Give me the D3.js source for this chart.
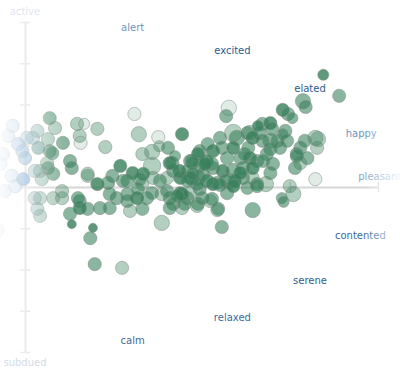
<!DOCTYPE html>
<html>
<head>
<meta charset="utf-8">
<script src="https://cdn.jsdelivr.net/npm/d3@7"></script>
<style>
  html, body { margin: 0; padding: 0; background: #fff; }
  svg { display: block; }
  text { font-family: "DejaVu Sans", Verdana, sans-serif; font-size: 10px; }
</style>
</head>
<body>
<svg id="chart" width="400" height="375"></svg>
<script>
// valence (5..9 pleasant half), arousal (1..9)
const valenceTicks = [5, 6, 7, 8, 9];
const arousalTicks = [1, 2, 3, 4, 5, 6, 7, 8, 9];

// mood words placed on the circumplex
const moodWords = ["alert", "excited", "elated", "happy", "pleasant", "contented", "serene", "relaxed", "calm"];
const moodValence = [6.22, 7.35, 8.23, 8.81, 9.02, 8.80, 8.23, 7.35, 6.22];
const moodArousal = [8.88, 8.32, 7.40, 6.31, 5.27, 3.84, 2.75, 1.85, 1.29];
const moodTone = [1, 3, 3, 1, 0, 2, 3, 2, 2];
const axisWords = ["active", "subdued"];
const axisArousal = [9.27, 0.76];

// entries: [valence, arousal, weight(1..5), intensity(1..4)]
const entries = [
  [8.38,7.72,2,4],[8.56,7.21,3,3],[8.15,7.08,4,3],[8.18,6.94,3,3],[7.31,6.92,4,1],[7.28,6.72,3,3],
  [7.92,6.87,3,4],[7.98,6.77,3,3],[8.03,6.67,2,3],[7.69,6.53,3,3],[7.78,6.55,3,4],[7.80,6.41,3,3],
  [7.66,6.31,3,3],[7.95,6.36,3,3],[7.36,6.31,5,2],[7.40,6.19,4,3],[7.52,6.31,3,3],[7.58,6.19,3,4],
  [7.69,6.12,3,3],[7.78,6.12,4,3],[7.86,6.12,3,3],[7.53,5.95,3,3],[7.78,5.92,3,3],[7.92,6.28,2,3],
  [8.12,5.95,3,3],[8.17,6.12,3,3],[8.29,6.19,4,2],[8.31,5.95,3,2],[8.20,5.70,3,3],[8.08,5.80,3,3],
  [8.12,5.58,3,2],[8.06,5.46,3,3],[8.29,5.19,3,1],[8.00,5.02,3,2],[7.73,5.07,4,2],[7.63,5.07,3,3],
  [7.21,6.19,3,3],[7.13,5.87,3,4],[7.07,6.04,3,3],[7.23,5.95,3,3],[7.29,5.70,3,3],[7.36,5.95,3,4],
  [7.44,5.70,3,3],[7.55,5.70,3,4],[7.63,5.63,3,3],[7.74,5.80,3,3],[7.81,5.56,3,3],[7.47,5.46,3,3],
  [7.58,5.46,3,4],[7.13,5.46,3,3],[7.24,5.39,3,4],[7.36,5.39,4,3],[7.47,5.22,3,3],[7.02,5.32,3,3],
  [7.06,5.63,3,4],[7.32,5.15,4,2],[7.18,5.10,3,3],[7.58,5.22,3,2],[8.32,6.16,4,2],[7.89,5.95,3,3],
  [7.97,6.12,3,3],[7.64,6.48,2,4],[7.55,6.31,4,2],
  [6.24,6.77,3,1],[6.51,6.21,3,1],[6.52,5.99,2,2],[6.78,6.28,3,4],[6.29,6.28,4,2],[6.62,5.95,3,3],
  [6.33,5.80,3,2],[6.44,5.85,4,2],[6.44,5.51,5,2],[6.08,5.51,3,4],[6.67,5.58,3,3],[6.75,5.39,3,4],
  [6.87,5.63,3,3],[6.98,5.87,3,3],[6.98,5.51,3,3],[7.12,5.56,3,3],[6.89,5.19,3,3],[6.76,5.22,3,4],
  [6.68,5.39,3,3],[6.61,5.22,3,2],[6.53,5.15,3,3],[6.45,5.22,3,2],[6.34,5.32,3,4],[6.22,5.34,3,4],
  [6.16,5.15,3,3],[6.33,5.07,3,2],[6.96,5.22,4,3],[7.07,5.15,3,2],[7.27,5.15,3,3],[7.38,5.15,3,4],
  [7.21,5.05,3,3],[6.89,5.63,3,3],[6.64,5.58,3,4],[6.70,5.75,2,3],[6.96,5.80,3,4],
  [6.16,4.83,3,3],[6.27,4.73,3,4],[6.38,4.73,3,3],[6.55,4.83,3,2],[6.64,4.73,3,3],[6.76,4.85,3,4],
  [6.84,4.73,3,3],[6.68,4.59,3,3],[6.78,4.49,3,2],[6.96,4.59,3,3],[7.10,4.66,3,2],[7.19,4.47,3,3],
  [7.01,4.73,3,3],[6.19,4.42,3,2],[6.33,4.47,3,3],[6.55,4.13,4,2],[7.13,5.07,3,4],[7.29,4.85,3,3],
  [7.36,5.02,3,4],[7.52,4.98,3,3],[7.63,5.02,3,3],[7.78,5.34,3,3],[7.70,5.63,3,3],[7.44,5.34,3,4],
  [7.04,5.56,3,4],[6.90,5.58,3,3],[6.84,5.39,3,3],[6.87,5.22,3,3],[7.06,5.15,3,3],[6.95,4.54,3,2],
  [6.81,4.59,3,3],[6.78,4.83,3,4],[6.87,4.85,3,2],[6.98,4.95,3,3],[7.12,4.71,3,3],[7.18,4.44,3,2],
  [7.58,4.44,4,3],[7.23,4.03,3,3],[7.91,4.73,2,3],[7.93,4.64,2,3],[8.04,4.83,4,2],[8.08,5.75,3,3],
  [7.49,5.80,3,3],
  [5.28,6.67,3,3],[5.34,6.43,3,2],[5.59,6.53,3,2],[5.67,6.53,2,1],[5.82,6.41,3,2],[5.62,6.24,3,2],
  [5.63,6.07,3,1],[5.43,6.07,3,3],[5.91,5.97,3,2],[5.14,6.36,3,2],[4.86,6.48,3,2],[4.81,6.24,3,2],
  [4.92,6.04,3,3],[5.02,6.19,3,2],[5.09,6.19,3,2],[5.15,5.95,3,3],[5.26,6.16,3,2],[5.28,5.87,3,3],
  [4.97,5.87,3,3],[5.00,5.70,3,3],[4.75,5.80,3,2],[4.72,5.56,3,2],[5.31,5.82,3,3],[5.25,5.58,3,2],
  [5.26,5.46,3,3],[5.17,5.39,3,2],[5.11,5.39,3,2],[5.32,5.32,3,3],[5.19,5.19,3,2],[5.51,5.63,3,3],
  [5.53,5.46,3,3],[5.71,5.32,3,2],[4.98,5.19,3,4],[4.85,5.27,3,2],[4.77,4.90,3,2],[5.99,5.27,3,3],
  [5.82,5.07,3,4],[5.94,5.10,3,3],[6.11,5.15,3,3],[6.04,4.73,3,3],[5.96,4.83,3,3],[5.85,4.49,3,3],
  [5.96,4.49,3,3],[5.42,4.90,3,2],[5.42,4.73,3,2],[5.32,4.73,3,2],[5.11,4.73,3,2],[5.17,4.73,3,2],
  [5.17,4.30,3,2],[5.14,4.47,3,2],[5.51,4.35,3,3],[5.62,4.66,3,3],[5.62,4.49,3,4],[5.71,4.47,3,3],
  [5.60,4.73,3,3],[5.53,4.10,1,4],[5.77,4.01,1,4],[5.74,3.76,3,3],[5.79,3.13,3,3],[6.10,3.04,3,2],
  [5.71,5.27,3,2],[6.30,5.19,3,3],[6.16,4.66,3,3],[6.28,4.95,3,3],[6.44,4.85,3,3],[6.61,4.90,3,3],
  [6.64,4.49,3,3],[6.73,4.78,3,3],[6.95,5.07,3,3],[6.84,5.15,3,3],[6.90,5.32,3,3],[4.66,3.96,5,2],
  [4.89,5.02,3,2]
];

const svg = d3.select("#chart");
const W = 400, H = 375;

const x = d3.scaleLinear().domain([5, 9]).range([25, 378]);
const y = d3.scaleLinear().domain([1, 9]).range([352, 22]);
const r = d3.scaleLinear().domain([1, 5]).range([4.5, 8.7]);
const alpha = d3.scaleOrdinal().domain([1, 2, 3, 4]).range([0.15, 0.38, 0.58, 0.8]);
const green = "#36805a";
const hue = d3.scaleLinear().domain([4.95, 5.22]).range(["#6aa0da", green]).clamp(true)
  .interpolate(d3.interpolateRgb);

const defs = svg.append("defs");
const gl = defs.append("linearGradient").attr("id", "fadeL").attr("x1", "0").attr("x2", "1").attr("y1", "0").attr("y2", "0");
gl.append("stop").attr("offset", "0").attr("stop-color", "#fff").attr("stop-opacity", 0.9);
gl.append("stop").attr("offset", "0.45").attr("stop-color", "#fff").attr("stop-opacity", 0.45);
gl.append("stop").attr("offset", "1").attr("stop-color", "#fff").attr("stop-opacity", 0);
const gr = defs.append("linearGradient").attr("id", "fadeR").attr("x1", "0").attr("x2", "1").attr("y1", "0").attr("y2", "0");
gr.append("stop").attr("offset", "0").attr("stop-color", "#fff").attr("stop-opacity", 0);
gr.append("stop").attr("offset", "1").attr("stop-color", "#fff").attr("stop-opacity", 0.9);

// axes
const axG = svg.append("g").attr("class", "axes");
function styleAxis(g, showDomain) {
  g.selectAll(".tick line").attr("stroke", "#d6d6d6").attr("stroke-width", 1.5);
  g.selectAll(".tick text").remove();
  g.select(".domain").attr("stroke", showDomain ? "#d6d6d6" : "none").attr("stroke-width", 2);
}
axG.append("g").attr("transform", `translate(${x(5)},0)`)
  .call(d3.axisLeft(y).tickValues(arousalTicks).tickSizeInner(5).tickSizeOuter(0).tickFormat(""))
  .call(g => styleAxis(g, true));
axG.append("g").attr("transform", `translate(${x(5)},0)`)
  .call(d3.axisRight(y).tickValues(arousalTicks).tickSizeInner(5).tickSizeOuter(0).tickFormat(""))
  .call(g => styleAxis(g, false));
axG.append("g").attr("transform", `translate(0,${y(5)})`)
  .call(d3.axisBottom(x).tickValues(valenceTicks).tickSizeInner(5).tickSizeOuter(0).tickFormat(""))
  .call(g => styleAxis(g, true));
axG.append("g").attr("transform", `translate(0,${y(5)})`)
  .call(d3.axisTop(x).tickValues(valenceTicks).tickSizeInner(5).tickSizeOuter(0).tickFormat(""))
  .call(g => styleAxis(g, false));

// points
svg.append("g").selectAll("circle").data(entries).join("circle")
  .attr("cx", d => x(d[0]))
  .attr("cy", d => y(d[1]))
  .attr("r", d => r(d[2]))
  .attr("fill", d => hue(d[0]))
  .attr("fill-opacity", d => alpha(d[3]))
  .attr("stroke", "#7d8c82")
  .attr("stroke-opacity", 0.5)
  .attr("stroke-width", 1);

// mood labels
const toneColor = ["#86a5c6", "#6f93bd", "#3a6b9b", "#2b5d8e"];
svg.append("g").selectAll("text").data(moodWords).join("text")
  .attr("x", (d, i) => x(moodValence[i]))
  .attr("y", (d, i) => y(moodArousal[i]) + 4)
  .attr("text-anchor", "middle")
  .attr("fill", (d, i) => toneColor[moodTone[i]])
  .text(d => d);

// edge fades
svg.append("rect").attr("x", 0).attr("y", 0).attr("width", 66).attr("height", H).attr("fill", "url(#fadeL)");
svg.append("rect").attr("x", 364).attr("y", 0).attr("width", 36).attr("height", H).attr("fill", "url(#fadeR)");

// axis words
svg.append("g").selectAll("text").data(axisWords).join("text")
  .attr("x", x(5))
  .attr("y", (d, i) => y(axisArousal[i]) + 4)
  .attr("text-anchor", "middle")
  .attr("fill", (d, i) => i === 0 ? "#dfe7ef" : "#d3dde7")
  .text(d => d);
</script>
</body>
</html>
